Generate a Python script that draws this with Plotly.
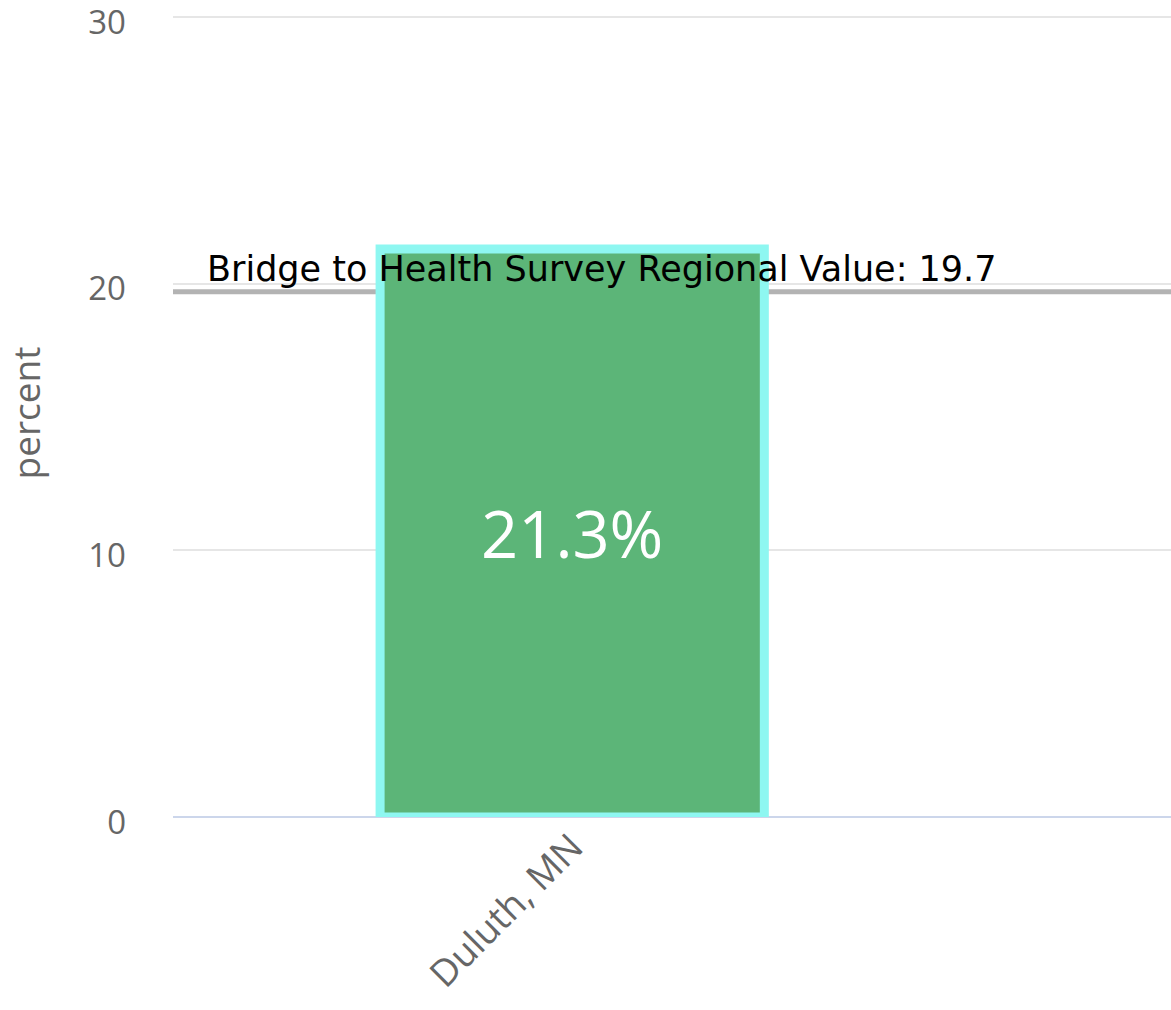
import plotly.graph_objs as go

# Chart data
categories = ["Duluth, MN"]
values = [21.3]
regional_label = "Bridge to Health Survey Regional Value"
regional_value = 19.7
y_ticks = [0, 10, 20, 30]

bar = go.Bar(
    x=categories,
    y=values,
    width=0.77,
    marker=dict(color='#5cb578', line=dict(color='#8ef7f1', width=9)),
    text=[f"{v}%" for v in values],
    textposition='inside',
    insidetextanchor='middle',
    textfont=dict(family="Open Sans", size=65, color='white'),
    hoverinfo='skip'
)

layout = go.Layout(
    width=1171,
    height=1010,
    margin=dict(l=173, r=0, t=9, b=193),
    paper_bgcolor='white',
    plot_bgcolor='white',
    showlegend=False,
    font=dict(family="Open Sans", color='#666666'),
    xaxis=dict(
        range=[-0.8, 1.2],
        tickangle=-45,
        tickfont=dict(size=37, color='#666666'),
        showgrid=False,
        showline=False,
        ticks='',
        automargin=False,
        fixedrange=True
    ),
    yaxis=dict(
        range=[0, 30.3],
        tickvals=y_ticks,
        tickfont=dict(size=33, color='#666666'),
        ticklabeloverflow='allow',
        ticklabelshift=5,
        gridcolor='#e6e6e6',
        gridwidth=2,
        zeroline=True,
        zerolinecolor='#ccd6eb',
        zerolinewidth=2,
        ticks='',
        ticklabelstandoff=46,
        automargin=False,
        title=dict(text="percent", font=dict(size=37, color='#666666'), standoff=64),
        fixedrange=True
    )
)

fig = go.Figure(data=[bar], layout=layout)

# Regional reference line, drawn under the bar
fig.add_shape(type='line', xref='paper', x0=0, x1=1, yref='y', y0=regional_value, y1=regional_value,
              line=dict(color='#b3b3b3', width=5), layer='below')

fig.add_annotation(xref='paper', x=0.032, yref='y', y=regional_value, xanchor='left', yanchor='bottom',
                   text=f"{regional_label}: {regional_value}", showarrow=False, yshift=1,
                   font=dict(family="DejaVu Sans", size=35, color='black'))

# drop the default page margin so the figure fills the window
fig.write_html("out.html", config={'displayModeBar': False},
               post_script="document.body.style.margin='0';")
